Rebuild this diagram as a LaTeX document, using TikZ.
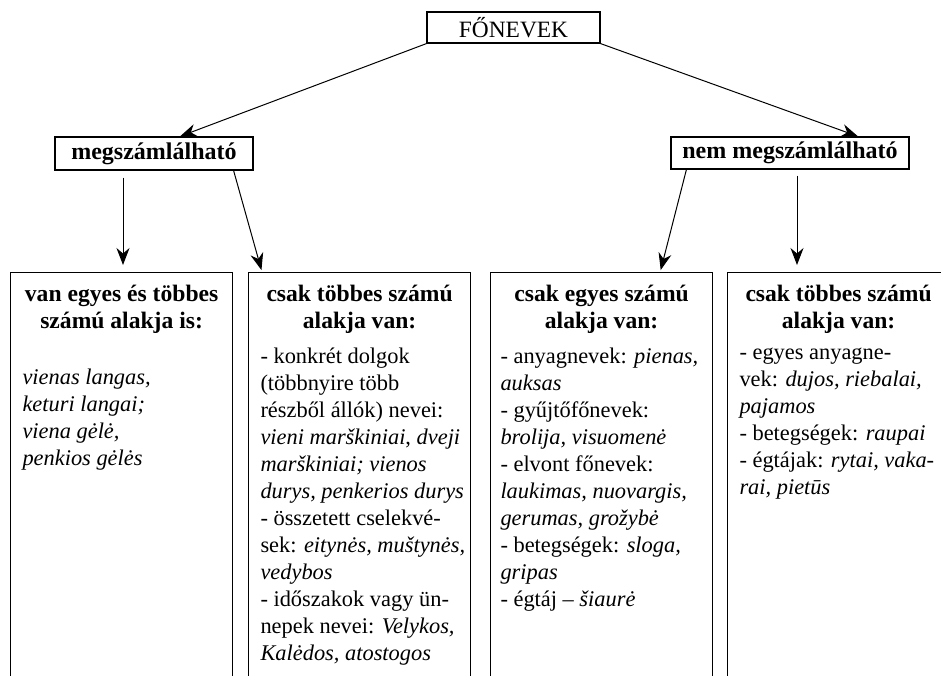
\documentclass[tikz,border=0pt]{standalone}
\usepackage{fontspec}
\setmainfont{Liberation Serif}
\usetikzlibrary{arrows.meta,positioning}

\begin{document}
\begin{tikzpicture}[x=0.5pt, y=-0.5pt, >={Stealth[length=8.5pt,width=6.5pt]}, line width=0.5pt,
  topbox/.style={draw, line width=0.6pt, inner sep=0pt, font=\fontsize{11.7}{13.5}\selectfont},
  catbox/.style={draw, line width=0.6pt, inner sep=0pt, font=\bfseries\fontsize{12}{13.5}\selectfont},
  colbox/.style={draw, line width=0.6pt, inner sep=0pt, anchor=north west, minimum width=111pt, minimum height=215pt},
  headtext/.style={align=center, inner sep=0pt, execute at begin node=\strut, font=\bfseries\fontsize{11.8}{13.5}\selectfont},
  bodytext/.style={align=left, anchor=north west, inner sep=0pt, execute at begin node=\strut, font=\fontsize{11.2}{13.5}\selectfont}]

% --- page frame ---
\useasboundingbox (0,0) rectangle (941,675);
\clip (0,0) rectangle (941,675);

% --- layout helpers ---
\def\Top{272}   % top edge of the four columns

% --- top of the tree ---
\node[topbox, minimum width=86.5pt, minimum height=15.5pt] (nouns) at (513.5,27.5) {FŐNEVEK};
\node[catbox, minimum width=99pt, minimum height=16.5pt] (count) at (154,153.5) {megszámlálható};
\node[catbox, minimum width=119pt, minimum height=16pt] (nocount) at (790,153) {nem megszámlálható};

% --- the four columns (open at the bottom) ---
\node[colbox] (c1) at (10,\Top) {};
\node[colbox] (c2) at (248,\Top) {};
\node[colbox] (c3) at (490,\Top) {};
\node[colbox] (c4) at (727,\Top) {};

\node[headtext, below=6.5pt of c1.north] (c1head) {van egyes és többes\\számú alakja is:};
\node[headtext, below=6.5pt of c2.north] (c2head) {csak többes számú\\alakja van:};
\node[headtext, below=6.5pt of c3.north] (c3head) {csak egyes számú\\alakja van:};
\node[headtext, below=6.5pt of c4.north] (c4head) {csak többes számú\\alakja van:};

\node[bodytext] (c1body) at ([xshift=6pt,yshift=-48pt]c1.north west)
  {\textit{vienas langas,}\\\textit{keturi langai;}\\\textit{viena gėlė,}\\\textit{penkios gėlės}};
\node[bodytext] (c2body) at ([xshift=6pt,yshift=-37.5pt]c2.north west)
  {- konkrét dolgok\\(többnyire több\\részből állók) nevei:\\\textit{vieni marškiniai}, \textit{dveji}\\
   \textit{marškiniai; vienos}\\\textit{durys, penkerios durys}\\- összetett cselekvé-\\
   sek: \textit{eitynės, muštynės,}\\\textit{vedybos}\\- időszakok vagy ün-\\
   nepek nevei: \textit{Velykos,}\\\textit{Kalėdos, atostogos}};
\node[bodytext] (c3body) at ([xshift=5pt,yshift=-37.5pt]c3.north west)
  {- anyagnevek: \textit{pienas,}\\\textit{auksas}\\- gyűjtőfőnevek:\\\textit{brolija, visuomenė}\\
   - elvont főnevek:\\\textit{laukimas, nuovargis,}\\\textit{gerumas, grožybė}\\
   - betegségek: \textit{sloga,}\\\textit{gripas}\\- égtáj -- \textit{šiaurė}};
\node[bodytext] (c4body) at ([xshift=6pt,yshift=-37.5pt]c4.north west)
  {- egyes anyagne-\\vek: \textit{dujos, riebalai,}\\\textit{pajamos}\\- betegségek: \textit{raupai}\\
   - égtájak: \textit{rytai, vaka-}\\\textit{rai, pietūs}};

% --- arrows ---
\draw[->] (nouns.south west) -- ([xshift=13pt]count.north);
\draw[->] (nouns.south east) -- ([xshift=34pt]nocount.north);
\draw[->, shorten <=3.5pt, shorten >=3.5pt] ([xshift=-15.5pt]count.south) -- ([xshift=-15.5pt]count.south |- c1.north);
\draw[->, shorten >=1pt] ([xshift=-10pt]count.south east) -- ([xshift=7pt]c2.north west);
\draw[->, shorten >=1pt] ([xshift=8pt]nocount.south west) -- ([xshift=-26.5pt]c3.north east);
\draw[->, shorten <=3pt, shorten >=3.5pt] ([xshift=3.5pt]nocount.south) -- ([xshift=3.5pt]nocount.south |- c4.north);

\end{tikzpicture}
\end{document}
